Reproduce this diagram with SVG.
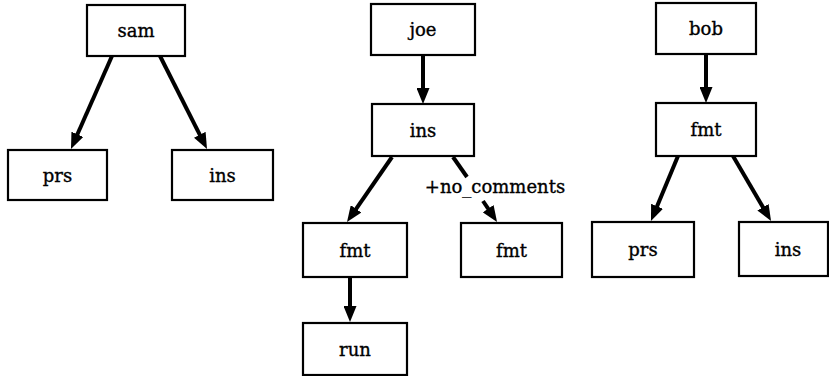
<svg xmlns="http://www.w3.org/2000/svg" width="829" height="376" viewBox="0 0 829 376">
<style>
.box{fill:#fff;stroke:#000;stroke-width:2.2}
.lbl{font-family:"DejaVu Serif","Liberation Serif",serif;font-size:18px;fill:#000;stroke:#000;stroke-width:0.35;text-anchor:middle}
.edge{stroke:#000;stroke-width:4;fill:none}
</style>
<defs>
<marker id="ah" markerUnits="userSpaceOnUse" markerWidth="16" markerHeight="13" refX="6" refY="6.5" orient="auto" viewBox="0 0 16 13">
<path d="M0,0 L16,6.5 L0,13 z" fill="#000"/>
</marker>
</defs>
<rect width="829" height="376" fill="#fff"/>
<g id="connectors">
<line class="edge" x1="112" y1="56" x2="75" y2="139.8" marker-end="url(#ah)"/>
<line class="edge" x1="160" y1="56" x2="202.5" y2="140.1" marker-end="url(#ah)"/>
<line class="edge" x1="423" y1="55" x2="423" y2="94" marker-end="url(#ah)"/>
<line class="edge" x1="392" y1="157" x2="352.7" y2="213.8" marker-end="url(#ah)"/>
<line class="edge" x1="453" y1="157" x2="467" y2="177"/>
<line class="edge" x1="483" y1="201" x2="491.5" y2="213.7" marker-end="url(#ah)"/>
<text class="lbl" x="495" y="193">+no_comments</text>
<line class="edge" x1="350" y1="277" x2="350" y2="312" marker-end="url(#ah)"/>
<line class="edge" x1="706" y1="54" x2="706" y2="93" marker-end="url(#ah)"/>
<line class="edge" x1="678" y1="156" x2="654.8" y2="211.8" marker-end="url(#ah)"/>
<line class="edge" x1="733" y1="156" x2="766" y2="212.4" marker-end="url(#ah)"/>
</g>
<g id="sam"><rect class="box" x="87" y="5" width="98" height="51"/><text class="lbl" x="136" y="37">sam</text></g>
<g id="sam_prs"><rect class="box" x="8" y="150" width="99" height="50"/><text class="lbl" x="57.5" y="181.5">prs</text></g>
<g id="sam_ins"><rect class="box" x="172" y="150" width="101" height="50"/><text class="lbl" x="222.5" y="181.5">ins</text></g>
<g id="joe"><rect class="box" x="371" y="4" width="104" height="51"/><text class="lbl" x="423" y="36">joe</text></g>
<g id="joe_ins"><rect class="box" x="372" y="104" width="102" height="52"/><text class="lbl" x="423" y="136.5">ins</text></g>
<g id="joe_fmt1"><rect class="box" x="303" y="223" width="104" height="54"/><text class="lbl" x="355" y="256.5">fmt</text></g>
<g id="joe_fmt2"><rect class="box" x="461" y="223" width="101" height="54"/><text class="lbl" x="511.5" y="256.5">fmt</text></g>
<g id="joe_run"><rect class="box" x="303" y="323" width="104" height="52"/><text class="lbl" x="355" y="355.5">run</text></g>
<g id="bob"><rect class="box" x="656" y="3" width="100" height="51"/><text class="lbl" x="706" y="35">bob</text></g>
<g id="bob_fmt"><rect class="box" x="656" y="103" width="100" height="53"/><text class="lbl" x="706" y="136">fmt</text></g>
<g id="bob_prs"><rect class="box" x="592" y="222" width="102" height="55"/><text class="lbl" x="643" y="256">prs</text></g>
<g id="bob_ins"><rect class="box" x="739" y="222" width="89" height="54"/><text class="lbl" x="788" y="255.5">ins</text></g>
</svg>
